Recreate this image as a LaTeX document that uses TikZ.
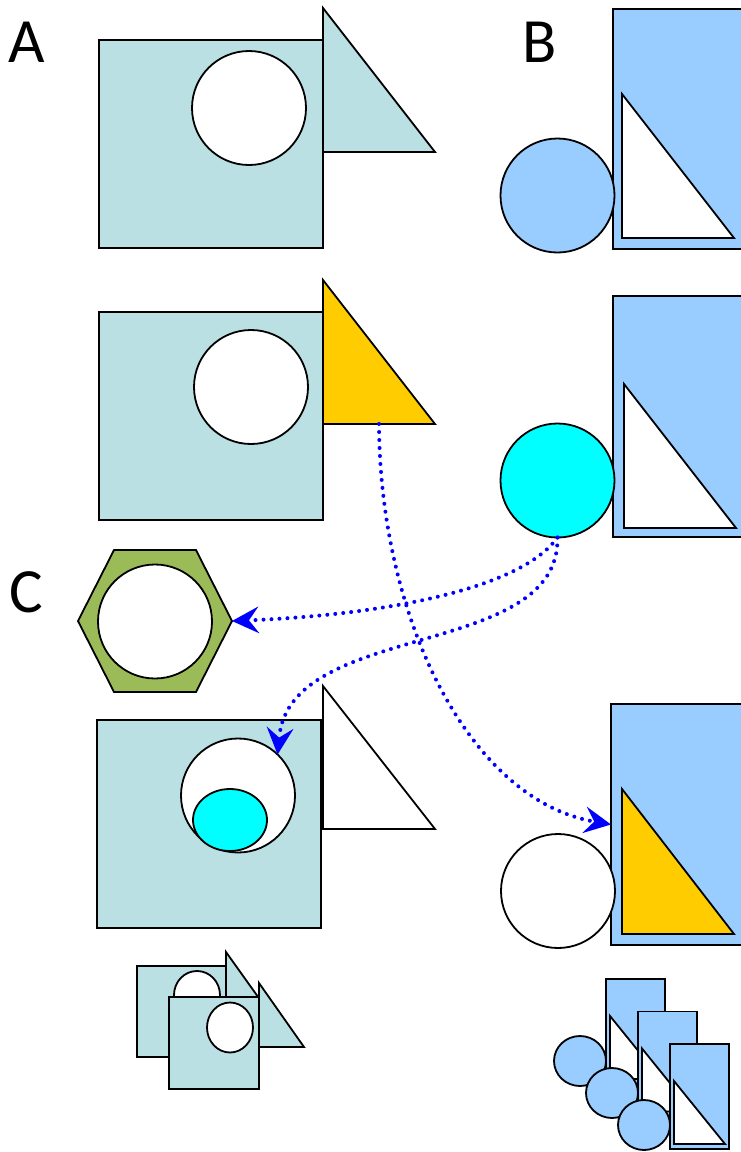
\documentclass[tikz,border=0pt]{standalone}
\usepackage{fontspec}
\setmainfont{Carlito}
\usetikzlibrary{shapes.geometric,arrows.meta}
\definecolor{sqfill}{HTML}{BBE0E3}
\definecolor{lblue}{HTML}{99CCFF}
\definecolor{goldc}{HTML}{FFCC00}
\definecolor{cyanc}{HTML}{00FFFF}
\definecolor{hexgreen}{HTML}{9BBB59}
\definecolor{arrblue}{HTML}{0000FF}
\begin{document}
\begin{tikzpicture}[x=1pt,y=-1pt,line width=1.8pt,line join=miter,
  sq/.style={draw,fill=sqfill,rectangle,inner sep=0pt,outer sep=0pt,anchor=north west,minimum width=224pt,minimum height=208pt},
  bigrect/.style={draw,fill=lblue,rectangle,inner sep=0pt,outer sep=0pt,anchor=north west,minimum width=130pt,minimum height=240pt},
  rnd/.style={draw,circle,inner sep=0pt,outer sep=0pt,minimum size=114pt},
  oval/.style={draw,ellipse,inner sep=0pt,outer sep=0pt},
  lbl/.style={font=\fontsize{63}{63}\selectfont,anchor=base,inner sep=0pt},
  flow/.style={draw=arrblue,line width=4pt,dash pattern=on 0pt off 8pt,line cap=round,
    -{Stealth[length=27pt,width=27pt,inset=10pt,round=false,line width=0pt]}}]
\useasboundingbox (0,0) rectangle (740,1152);

% labels
\node[lbl] (labA) at (27,62) {A};
\node[lbl] (labB) at (540,62) {B};
\node[lbl] (labC) at (26,612) {C};

% Group A (top)
\node[sq] (sqA1) at (99,40) {};
\node[rnd,fill=white] (cA1) at (249,108) {};
\draw[fill=sqfill] (323,8) coordinate (tA1) -- (323,152) -- (435,152) -- cycle;

% Group A (second)
\node[sq] (sqA2) at (99,312) {};
\node[rnd,fill=white] (cA2) at (251,387) {};
\draw[fill=goldc] (323,280) -- (323,424) -- (435,424) -- cycle;
\coordinate (goldA) at (379,424);

% Group B (top)
\node[bigrect] (rB1) at (613,9) {};
\draw[fill=white] (622,94) -- (622,238) -- (734,238) -- cycle;
\node[rnd,fill=lblue] (cB1) at (557.5,195.5) {};

% Group B (second)
\node[bigrect,minimum height=241pt] (rB2) at (613,296) {};
\draw[fill=white] (624,384) -- (624,528) -- (736,528) -- cycle;
\node[rnd,fill=cyanc] (cB2) at (557.5,480.5) {};

% Hexagon C
\draw[fill=hexgreen] (114,550) -- (196,550) -- (232,621) coordinate (hexE) -- (196,692) -- (114,692) -- (78,621) -- cycle;
\node[rnd,fill=white] (cHex) at (155,621.5) {};

% Group C
\node[sq] (sqC) at (97,720) {};
\node[rnd,fill=white] (cC) at (238,795.5) {};
\node[oval,fill=cyanc,minimum width=74pt,minimum height=62pt] (eC) at (230,820) {};
\draw[fill=white] (323,686) -- (323,829) -- (435,829) -- cycle;

% Group B (third)
\node[bigrect,minimum width=131pt,minimum height=241pt] (rB3) at (611,704) {};
\draw[fill=goldc] (622,789) -- (622,934) -- (734,934) -- cycle;
\node[rnd,fill=white] (cB3) at (558,891) {};

% small group bottom-left
\node[draw,fill=sqfill,rectangle,inner sep=0pt,outer sep=0pt,anchor=north west,minimum width=89pt,minimum height=91pt] (sqS1) at (137,966) {};
\draw[fill=sqfill] (226,952) -- (226,1015) -- (271,1015) -- cycle;
\node[oval,fill=white,minimum width=46pt,minimum height=48pt] (cS1) at (197,995) {};
\node[draw,fill=sqfill,rectangle,inner sep=0pt,outer sep=0pt,anchor=north west,minimum width=90pt,minimum height=92pt] (sqS2) at (169,997) {};
\draw[fill=sqfill] (259,983) -- (259,1047) -- (304,1047) -- cycle;
\node[oval,fill=white,minimum width=46pt,minimum height=50pt] (cS2) at (230,1027.5) {};

% small group bottom-right
\foreach \i in {0,1,2}{
  \node[draw,fill=lblue,rectangle,inner sep=0pt,outer sep=0pt,anchor=north west,minimum width=59pt,minimum height=105pt] (rS\i) at (606+32*\i,979+32.5*\i) {};
  \draw[fill=white] (610+32*\i,1016+32.5*\i) -- (610+32*\i,1079+32.5*\i) -- (661+32*\i,1079+32.5*\i) -- cycle;
  \node[oval,fill=lblue,minimum width=52pt,minimum height=50pt] (cS\i) at (580+32*\i,1061+32*\i) {};
}

% connectors
\draw[flow] (cB2.south) .. controls (520,590) and (380,615) .. (hexE);
\draw[flow] (cB2.south) .. controls (560,660) and (290,620) .. (cC.46);
\draw[flow] (goldA) .. controls (380,620) and (470,800) .. (rB3.west);
\end{tikzpicture}
\end{document}
